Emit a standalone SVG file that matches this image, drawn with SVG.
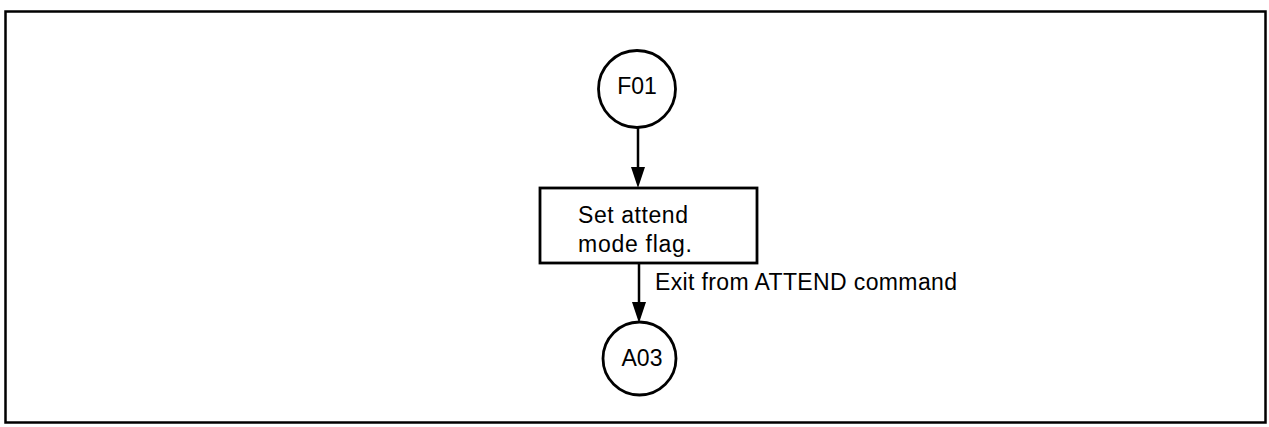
<svg xmlns="http://www.w3.org/2000/svg" width="1269" height="427" viewBox="0 0 1269 427">
<style>
.ln{stroke:#000;stroke-width:2.5;fill:none}
.nd{stroke:#000;stroke-width:2.8;fill:#fff}
.t{font-family:"Century Gothic","URW Gothic","Liberation Sans",sans-serif;font-size:23px;fill:#000}
</style>
<rect x="0" y="0" width="1269" height="427" fill="#fff"/>
<rect class="ln" x="5.5" y="11.5" width="1260" height="411" stroke-width="3"/>
<g id="connectors">
<path class="ln" d="M638,128 V168" stroke-width="2"/>
<path d="M631,167 L645,167 L638,188 Z" fill="#000"/>
<path class="ln" d="M639,263 V303" stroke-width="2"/>
<path d="M632,302 L646,302 L639,323 Z" fill="#000"/>
<text class="t" x="655" y="290" textLength="302">Exit from ATTEND command</text>
</g>
<g id="F01">
<circle class="nd" cx="637" cy="89" r="38.5"/>
<text class="t" x="637" y="94" text-anchor="middle">F01</text>
</g>
<g id="setflag">
<rect class="nd" x="540" y="188" width="217" height="75"/>
<text class="t" x="578" y="223" textLength="110">Set attend</text>
<text class="t" x="578" y="252" textLength="114">mode flag.</text>
</g>
<g id="A03">
<circle class="nd" cx="639.5" cy="358.5" r="36.5"/>
<text class="t" x="642" y="366" text-anchor="middle">A03</text>
</g>
</svg>
